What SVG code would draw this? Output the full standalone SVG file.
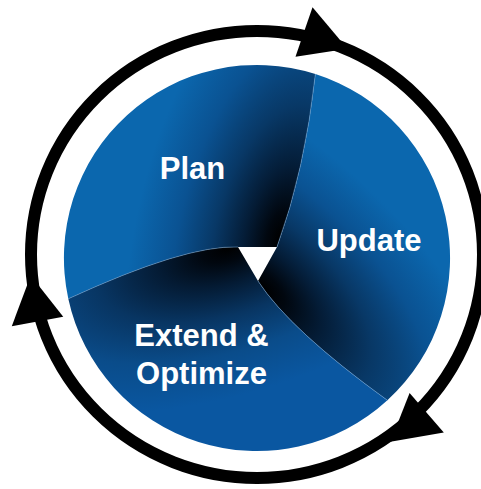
<svg xmlns="http://www.w3.org/2000/svg" width="481" height="489" viewBox="0 0 481 489">
<style>
 .lbl{font-family:"Liberation Sans",Arial,sans-serif;font-weight:bold;font-size:31px;fill:#ffffff;text-anchor:middle}
 .divider{fill:none;stroke:#6c9fd0;stroke-width:0.8;stroke-opacity:0.7}
 .ring{fill:none;stroke:#000000;stroke-width:12}
 .head{fill:#000000}
</style>
<defs>
 <radialGradient id="gPlan" gradientUnits="userSpaceOnUse" cx="0" cy="0" r="1" gradientTransform="translate(280 238) rotate(-77.6) scale(300 145)">
  <stop offset="0" stop-color="#000000"/>
  <stop offset="0.09" stop-color="#01070f"/>
  <stop offset="0.24" stop-color="#041c36"/>
  <stop offset="0.45" stop-color="#083866"/>
  <stop offset="0.7" stop-color="#0a5292"/>
  <stop offset="1" stop-color="#0b67ae"/>
 </radialGradient>
 <radialGradient id="gUpd" href="#gPlan" gradientTransform="rotate(120 257 258) translate(280 238) rotate(-77.6) scale(300 145)"/>
 <radialGradient id="gExt" gradientUnits="userSpaceOnUse" cx="0" cy="0" r="1" gradientTransform="rotate(240 257 258) translate(280 238) rotate(-77.6) scale(300 145)">
  <stop offset="0" stop-color="#000000"/>
  <stop offset="0.09" stop-color="#01070f"/>
  <stop offset="0.24" stop-color="#041b34"/>
  <stop offset="0.45" stop-color="#083562"/>
  <stop offset="0.7" stop-color="#0a4c8a"/>
  <stop offset="1" stop-color="#0a57a1"/>
 </radialGradient>
 <path id="arrowhead" d="M26,3 L-26,-3 L-7,46 Z"/>
</defs>

<g id="cycle-ring">
 <ellipse class="ring" cx="257" cy="254.5" rx="226" ry="223.5"/>
 <use href="#arrowhead" class="head" transform="translate(304 32) rotate(-77.6)"/>
 <use href="#arrowhead" class="head" transform="translate(426.7 412.7) rotate(42.6)"/>
 <use href="#arrowhead" class="head" transform="translate(37.5 321.5) rotate(163)"/>
</g>

<g id="plan">
 <path d="M238,247 L277,247 Q305,170 315.4,74 A193,193 0 0 0 68.3,298.8 Q185,245 238,247 Z" fill="url(#gPlan)"/>
 <text class="lbl" x="192.5" y="179">Plan</text>
</g>

<g id="update">
 <path d="M277,247 L258,281 Q290,330 387.4,400.3 A193,193 0 0 0 315.4,74 Q305,170 277,247 Z" fill="url(#gUpd)"/>
 <text class="lbl" x="369" y="251">Update</text>
</g>

<g id="extend-optimize">
 <path d="M258,281 L238,247 Q185,245 68.3,298.8 A193,193 0 0 0 387.4,400.3 Q290,330 258,281 Z" fill="url(#gExt)"/>
 <text class="lbl" x="201.5" y="346">Extend &amp;</text>
 <text class="lbl" x="201.5" y="384">Optimize</text>
</g>

<g id="connectors">
 <path class="divider" d="M277,247 Q305,170 315.4,74"/>
 <path class="divider" d="M258,281 Q290,330 387.4,400.3"/>
 <path class="divider" d="M238,247 Q185,245 68.3,298.8"/>
</g>
</svg>
